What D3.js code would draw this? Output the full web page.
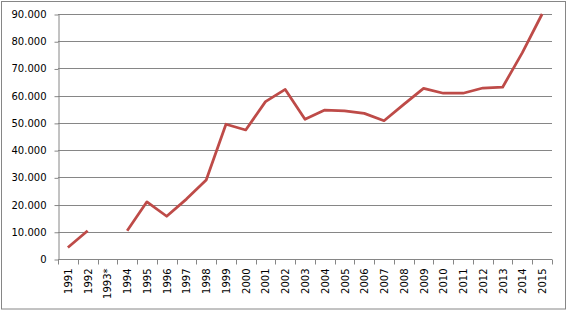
<!DOCTYPE html>
<html>
<head>
<meta charset="utf-8">
<script src="https://cdn.jsdelivr.net/npm/d3@7"></script>
<style>
  body { margin: 0; background: #fff; }
  svg { display: block; }
</style>
</head>
<body>
<svg id="chart"></svg>
<script>
// Data
const years = ["1991", "1992", "1993*", "1994", "1995", "1996", "1997", "1998", "1999", "2000",
  "2001", "2002", "2003", "2004", "2005", "2006", "2007", "2008", "2009", "2010",
  "2011", "2012", "2013", "2014", "2015"];
const values = [4200, 10400, null, 10400, 21000, 15700, 22000, 29000, 49500, 47400,
  57800, 62300, 51300, 54700, 54400, 53500, 50800, 56800, 62700, 60900,
  60900, 62800, 63100, 75800, 90000];
const yTicks = [0, 10000, 20000, 30000, 40000, 50000, 60000, 70000, 80000, 90000];

const width = 570;
const height = 313;
const plot = { left: 58, right: 552, top: 14, bottom: 259 };

const svg = d3.select("#chart")
  .attr("width", width)
  .attr("height", height);

// Outer border
svg.append("rect")
  .attr("x", 1.5).attr("y", 1.5)
  .attr("width", 564).attr("height", 307.5)
  .attr("fill", "none")
  .attr("stroke", "#868686")
  .attr("stroke-width", 1);

const x = d3.scaleBand()
  .domain(years)
  .range([plot.left, plot.right]);

const y = d3.scaleLinear()
  .domain([0, 90000])
  .range([plot.bottom, plot.top]);

const fmt = d => d === 0 ? "0" : d3.format(",")(d).replace(/,/g, ".");

// Gridlines
svg.append("g")
  .selectAll("line")
  .data(yTicks.filter(d => d > 0))
  .enter().append("line")
  .attr("x1", plot.left).attr("x2", plot.right)
  .attr("y1", d => Math.round(y(d)) + 0.5)
  .attr("y2", d => Math.round(y(d)) + 0.5)
  .attr("stroke", "#868686")
  .attr("stroke-width", 1);

// Y axis
const yAxis = svg.append("g")
  .attr("transform", `translate(${plot.left + 0.5},0)`)
  .call(d3.axisLeft(y).tickValues(yTicks).tickFormat(fmt).tickSize(4).tickSizeOuter(0))
  .call(g => g.selectAll("path, line").attr("stroke", "#868686"))
  .call(g => g.selectAll(".tick line").attr("transform", "translate(0,0.5)"))
  .call(g => g.selectAll("text")
    .attr("x", -12)
    .attr("dy", "0.35em")
    .style("font-family", "'DejaVu Sans', Verdana, sans-serif")
    .style("font-size", "10px")
    .attr("fill", "#000"));

// X axis (ticks between categories)
const xAxis = svg.append("g")
  .attr("transform", `translate(0,${plot.bottom + 0.5})`);

xAxis.append("line")
  .attr("x1", plot.left).attr("x2", plot.right)
  .attr("stroke", "#868686");

xAxis.selectAll(".sep")
  .data(years)
  .enter().append("line")
  .attr("class", "sep")
  .attr("x1", d => Math.round(x(d) + x.bandwidth()) + 0.5)
  .attr("x2", d => Math.round(x(d) + x.bandwidth()) + 0.5)
  .attr("y1", 0).attr("y2", 5)
  .attr("stroke", "#868686");

xAxis.append("line")
  .attr("x1", plot.left + 0.5).attr("x2", plot.left + 0.5)
  .attr("y1", 0).attr("y2", 5)
  .attr("stroke", "#868686");

xAxis.selectAll("text")
  .data(years)
  .enter().append("text")
  .attr("transform", d => `translate(${x(d) + x.bandwidth() / 2 + 4},${9}) rotate(-90)`)
  .attr("text-anchor", "end")
  .style("font-family", "'DejaVu Sans', Verdana, sans-serif")
  .style("font-size", "10px")
  .attr("fill", "#000")
  .text(d => d);

// Line
const line = d3.line()
  .defined(d => d.v !== null)
  .x(d => x(d.year) + x.bandwidth() / 2)
  .y(d => y(d.v));

svg.append("path")
  .datum(years.map((year, i) => ({ year: year, v: values[i] })))
  .attr("fill", "none")
  .attr("stroke", "#BE4B48")
  .attr("stroke-width", 2.75)
  .attr("stroke-linejoin", "round")
  .attr("d", line);
</script>
</body>
</html>
